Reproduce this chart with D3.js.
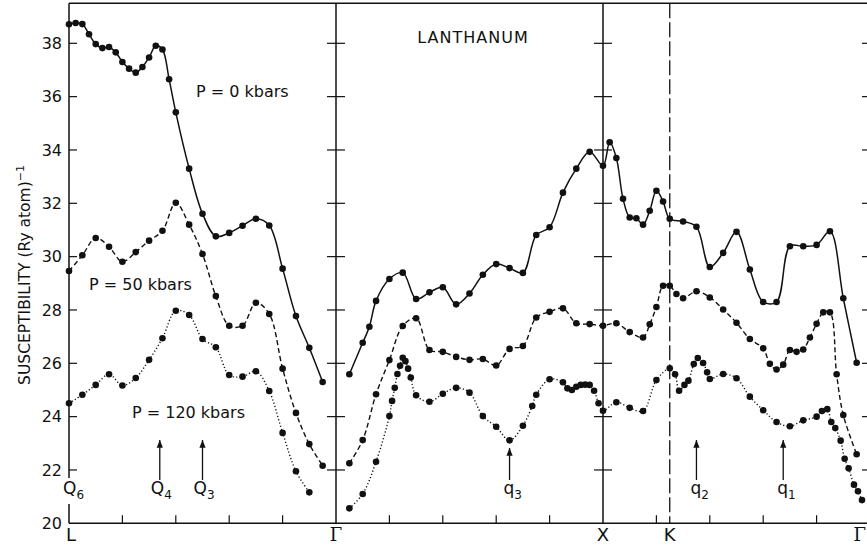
<!DOCTYPE html>
<html><head><meta charset="utf-8">
<script src="https://cdn.jsdelivr.net/npm/d3@7"></script>
<style>body{margin:0;background:#fff}svg{display:block}</style>
</head><body>
<svg id="c" width="867" height="548"></svg>
<script>
// ---- data (x in tick units along the path, L=0, Γ=5, X=10, K=11.25, Γ=15) ----
const yTicks = [20,22,24,26,28,30,32,34,36,38];
const xMinorTicks = [1,2,3,4,6,7,8,9,11,12,13,14];
const symLabels = ["L","Γ","X","K","Γ"];
const symPos = [0,5,10,11.25,15];

const p0LGx = [0,0.125,0.25,0.375,0.5,0.625,0.75,0.875,1.0,1.125,1.25,1.375,1.5,1.625,1.75,1.875,2.0,2.25,2.5,2.75,3.0,3.25,3.5,3.75,4.0,4.25,4.5,4.75];
const p0LGy = [38.71,38.76,38.72,38.34,37.97,37.82,37.86,37.66,37.30,37.05,36.90,37.11,37.47,37.91,37.77,36.65,35.41,33.30,31.61,30.76,30.89,31.16,31.42,31.17,29.55,27.77,26.58,25.30];

const p50LGx = [0,0.25,0.5,0.75,1.0,1.25,1.5,1.75,2.0,2.25,2.5,2.75,3.0,3.25,3.5,3.75,4.0,4.25,4.5,4.75];
const p50LGy = [29.46,30.05,30.70,30.37,29.81,30.17,30.60,30.97,32.02,31.20,30.10,28.52,27.41,27.41,28.27,27.85,25.80,24.14,22.97,22.16];

const p120LGx = [0,0.25,0.5,0.75,1.0,1.25,1.5,1.75,2.0,2.25,2.5,2.75,3.0,3.25,3.5,3.75,4.0,4.25,4.5];
const p120LGy = [24.50,24.82,25.19,25.59,25.17,25.45,26.13,26.94,27.97,27.81,26.91,26.60,25.56,25.50,25.70,24.96,23.39,21.95,21.16];

const p0GKx = [5.25,5.5,5.625,5.75,6.0,6.25,6.5,6.75,7.0,7.25,7.5,7.75,8.0,8.25,8.5,8.75,9.0,9.25,9.5,9.75,10.0,10.125,10.25,10.375,10.5,10.625,10.75,10.875,11.0,11.125,11.25,11.5,11.75,12.0,12.25,12.5,12.75,13.0,13.25,13.5,13.75,14.0,14.25,14.5,14.75];
const p0GKy = [25.59,26.77,27.37,28.34,29.16,29.40,28.41,28.66,28.85,28.21,28.62,29.32,29.72,29.57,29.39,30.81,31.10,32.40,33.30,33.93,33.41,34.29,33.70,32.17,31.47,31.44,31.20,31.72,32.47,32.07,31.42,31.32,31.12,29.61,30.14,30.93,29.52,28.30,28.30,30.39,30.39,30.44,30.95,28.44,26.02];

const p50GKx = [5.25,5.5,5.75,6.0,6.25,6.5,6.75,7.0,7.25,7.5,7.75,8.0,8.25,8.5,8.75,9.0,9.25,9.5,9.75,10.0,10.25,10.5,10.75,10.875,11.0,11.125,11.25,11.375,11.5,11.75,12.0,12.25,12.5,12.75,13.0,13.125,13.25,13.375,13.5,13.625,13.75,13.875,14.0,14.125,14.25,14.375,14.5,14.75];
const p50GKy = [22.25,23.12,24.84,26.12,27.40,27.69,26.50,26.43,26.24,26.13,26.16,25.92,26.54,26.65,27.72,27.93,28.06,27.50,27.47,27.41,27.50,27.17,26.97,27.46,28.11,28.91,28.91,28.60,28.44,28.70,28.47,28.02,27.52,26.91,26.56,25.98,25.77,25.95,26.50,26.43,26.52,26.97,27.48,27.91,27.91,25.59,24.06,22.59];

const p120GKx = [5.25,5.5,5.75,6.0,6.05,6.1,6.15,6.2,6.25,6.3,6.35,6.4,6.5,6.75,7.0,7.25,7.5,7.75,8.0,8.25,8.5,8.675,8.75,9.0,9.25,9.333,9.417,9.5,9.583,9.667,9.75,9.833,9.917,10.0,10.25,10.5,10.75,11.0,11.25,11.35,11.425,11.525,11.6,11.7,11.775,11.875,11.95,12.0,12.25,12.5,12.75,13.0,13.25,13.5,13.75,14.0,14.1,14.2,14.275,14.35,14.45,14.525,14.6,14.7,14.775,14.85];
const p120GKy = [20.56,21.10,22.31,24.02,24.59,25.08,25.60,25.91,26.21,26.08,25.80,25.47,24.80,24.56,24.86,25.08,24.90,24.02,23.62,23.11,23.66,24.40,24.82,25.40,25.29,25.06,25.00,25.12,25.19,25.20,25.19,24.97,24.50,24.22,24.54,24.33,24.21,25.37,25.81,25.59,24.97,25.19,25.35,25.97,26.20,26.01,25.66,25.41,25.60,25.44,24.75,24.24,23.80,23.64,23.86,24.00,24.21,24.28,23.80,23.57,23.10,22.42,22.06,21.45,21.20,20.87];

const seriesNames = ["P = 0 kbars","P = 50 kbars","P = 120 kbars"];
const qLabels = [["Q","6"],["Q","4"],["Q","3"],["q","3"],["q","2"],["q","1"]];
const qPos = [null,1.7,2.5,8.25,11.75,13.375];

// ---- drawing ----
const svg = d3.select("#c");
const FONT = "'DejaVu Sans', sans-serif";
const x = d3.scaleLinear().domain([0,15]).range([69,870]);
const y = d3.scaleLinear().domain([20,39.5]).range([523.3,3.3]);
const ink = "#111";

// frame
const frame = svg.append("g").attr("stroke", ink).attr("fill","none");
frame.append("line").attr("x1",x(0)).attr("x2",x(15)).attr("y1",y(39.5)).attr("y2",y(39.5)).attr("stroke-width",1.6);
frame.append("line").attr("x1",x(0)).attr("x2",x(15)).attr("y1",y(20)).attr("y2",y(20)).attr("stroke-width",1.6);
[0,5,10,15].forEach(u=>{
  frame.append("line").attr("x1",x(u)).attr("x2",x(u)).attr("y1",y(39.5)).attr("y2",y(20)).attr("stroke-width",1.5);
});
frame.append("line").attr("x1",x(11.25)).attr("x2",x(11.25)).attr("y1",y(39.5)).attr("y2",y(20))
  .attr("stroke-width",1.3).attr("stroke-dasharray","15,4");

// y ticks
yTicks.filter(t=>t>20).forEach(t=>{
  frame.append("line").attr("x1",x(0)).attr("x2",x(0)+8).attr("y1",y(t)).attr("y2",y(t)).attr("stroke-width",1.2);
  [5,10].forEach(u=>frame.append("line").attr("x1",x(u)-9).attr("x2",x(u)+9).attr("y1",y(t)).attr("y2",y(t)).attr("stroke-width",1.2));
  frame.append("line").attr("x1",x(15)-8).attr("x2",x(15)).attr("y1",y(t)).attr("y2",y(t)).attr("stroke-width",1.2);
});
// x ticks
xMinorTicks.forEach(u=>{
  frame.append("line").attr("x1",x(u)).attr("x2",x(u)).attr("y1",y(20)).attr("y2",y(20)-8).attr("stroke-width",1.2);
});

// y tick labels
svg.append("g").selectAll("text").data(yTicks).join("text")
  .attr("x",62).attr("y",d=>y(d)).attr("dy","0.36em").attr("text-anchor","end")
  .attr("font-family",FONT).attr("font-size",16).attr("fill",ink).text(d=>d);

// y title
const yt = svg.append("text").attr("transform","translate(30,275) rotate(-90)")
  .attr("text-anchor","middle").attr("font-family",FONT).attr("font-size",15.5).attr("fill",ink);
yt.append("tspan").text("SUSCEPTIBILITY (Ry atom)");
yt.append("tspan").attr("dy",-6).attr("font-size",11).text("−1");

// symmetry labels
svg.append("g").selectAll("text").data(symLabels).join("text")
  .attr("x",(d,i)=>i===4?866:x(symPos[i])).attr("y",541)
  .attr("text-anchor",(d,i)=>i===0?"start":(i===4?"end":"middle"))
  .attr("dx",(d,i)=>i===0?-3:0)
  .attr("font-family",(d)=>d==="Γ"?"'DejaVu Serif', serif":FONT).attr("font-size",18).attr("fill",ink).text(d=>d);

// title
svg.append("text").attr("x",473).attr("y",43).attr("text-anchor","middle").attr("font-family",FONT)
  .attr("font-size",16).attr("letter-spacing",1).attr("fill",ink).text("LANTHANUM");

// series labels
const labPos = [[196,97],[89,290],[132,418]];
seriesNames.forEach((s,i)=>{
  svg.append("text").attr("x",labPos[i][0]).attr("y",labPos[i][1]).attr("font-family",FONT)
    .attr("font-size",16).attr("fill",ink).text(s);
});

// curves
const line = d3.line().x(d=>x(d[0])).y(d=>y(d[1])).curve(d3.curveCatmullRom.alpha(0.5));
const series = [
  {segs:[[p0LGx,p0LGy],[p0GKx,p0GKy]], dash:null, w:1.5},
  {segs:[[p50LGx,p50LGy],[p50GKx,p50GKy]], dash:"5,3", w:1.4},
  {segs:[[p120LGx,p120LGy],[p120GKx,p120GKy]], dash:"1.2,2.2", w:1.4}
];
series.forEach(s=>{
  s.segs.forEach(([xs,ys])=>{
    const pts = xs.map((u,i)=>[u,ys[i]]);
    svg.append("path").datum(pts).attr("d",line).attr("fill","none").attr("stroke",ink)
      .attr("stroke-width",s.w).attr("stroke-dasharray",s.dash);
    svg.append("g").selectAll("circle").data(pts).join("circle")
      .attr("cx",d=>x(d[0])).attr("cy",d=>y(d[1])).attr("r",3.3).attr("fill",ink);
  });
});

// Q / q labels and arrows
const defs = svg.append("defs");
defs.append("marker").attr("id","ah").attr("viewBox","0 0 10 10").attr("refX",10).attr("refY",5)
  .attr("markerWidth",6).attr("markerHeight",6).attr("orient","auto-start-reverse")
  .append("path").attr("d","M0,1 L10,5 L0,9 Z").attr("fill",ink);
qLabels.forEach((q,i)=>{
  const u = qPos[i];
  let lx;
  if (u===null) { lx = 63; }
  else {
    const ax = x(u);
    const tipY = (q[0]==="q" && q[1]==="3") ? 448 : 440;
    svg.append("line").attr("x1",ax).attr("x2",ax).attr("y1",480).attr("y2",tipY)
      .attr("stroke",ink).attr("stroke-width",1.3).attr("marker-end","url(#ah)");
    lx = ax - (q[0]==="Q" ? 9 : 6);
  }
  if (u===null) {
    svg.append("rect").attr("x",60).attr("y",478).attr("width",26).attr("height",26).attr("fill","#fff");
  }
  const t = svg.append("text").attr("x",lx).attr("y",494).attr("font-family",FONT).attr("font-size",17).attr("fill",ink);
  t.append("tspan").text(q[0]);
  t.append("tspan").attr("dy",5).attr("font-size",12).text(q[1]);
});
</script>
</body></html>
